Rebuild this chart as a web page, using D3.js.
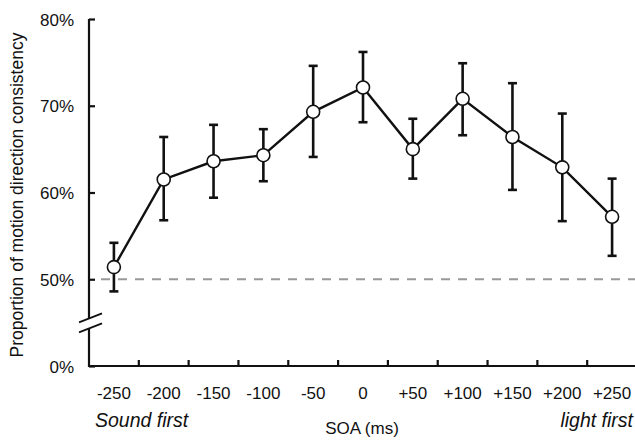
<!DOCTYPE html>
<html>
<head>
<meta charset="utf-8">
<script src="https://cdn.jsdelivr.net/npm/d3@7"></script>
<style>
html,body{margin:0;padding:0;background:#fff;}
svg{display:block;font-family:"Liberation Sans",Arial,Helvetica,sans-serif;}
</style>
</head>
<body>
<svg id="chart" width="635" height="440"></svg>
<script>
// ---- data ----
const categories = ["-250","-200","-150","-100","-50","0","+50","+100","+150","+200","+250"];
const means      = [51.4, 61.5, 63.6, 64.3, 69.3, 72.1, 65.0, 70.8, 66.4, 62.9, 57.2];
const upper      = [54.2, 66.4, 67.8, 67.3, 74.6, 76.2, 68.5, 74.9, 72.6, 69.1, 61.6];
const lower      = [48.6, 56.8, 59.4, 61.3, 64.1, 68.1, 61.6, 66.6, 60.3, 56.7, 52.7];
// axis is broken: bottom "0%" is drawn where 40% would be
const yTickValues = [40, 50, 60, 70, 80];
const yTickLabels = ["0%", "50%", "60%", "70%", "80%"];
const chanceLevel = 50;

const svg = d3.select("#chart");
const pL = 89, pR = 637, pT = 19, pB = 366;

const x = d3.scaleBand().domain(categories).range([pL, pR]).padding(0);
const y = d3.scaleLinear().domain([40, 80]).range([pB, pT]);

const ink = "#111";

// y axis (with break)
const yAxis = d3.axisLeft(y).tickValues(yTickValues)
  .tickFormat((d,i)=>yTickLabels[i]).tickSize(-6).tickPadding(15);
const gy = svg.append("g").attr("transform",`translate(${pL},0)`).call(yAxis);
gy.select(".domain").remove();
gy.selectAll(".tick line").attr("stroke",ink).attr("stroke-width",2.2);
gy.selectAll(".tick text").attr("font-size","17px").attr("fill",ink)
  .attr("font-family","Liberation Sans, Arial, sans-serif").attr("dy","0.36em");
// axis line in two pieces with a gap
svg.append("line").attr("x1",pL).attr("x2",pL).attr("y1",pT).attr("y2",318)
  .attr("stroke",ink).attr("stroke-width",2.2);
svg.append("line").attr("x1",pL).attr("x2",pL).attr("y1",328).attr("y2",pB+1)
  .attr("stroke",ink).attr("stroke-width",2.2);
// break slashes
[[322.3,313.3],[332.3,323.3]].forEach(([ya,yb])=>{
  svg.append("line").attr("x1",79).attr("y1",ya).attr("x2",102).attr("y2",yb)
    .attr("stroke",ink).attr("stroke-width",1.8);
});

// x axis
svg.append("line").attr("x1",pL).attr("x2",pR).attr("y1",pB).attr("y2",pB)
  .attr("stroke",ink).attr("stroke-width",2.2);
const gx = svg.append("g");
gx.selectAll("line.xt").data(categories.slice(0,-1)).join("line")
  .attr("class","xt")
  .attr("x1",d=>x(d)+x.bandwidth()).attr("x2",d=>x(d)+x.bandwidth())
  .attr("y1",pB).attr("y2",pB-6)
  .attr("stroke",ink).attr("stroke-width",2.2);
gx.selectAll("text").data(categories).join("text")
  .attr("x",d=>x(d)+x.bandwidth()/2).attr("y",398.5)
  .attr("text-anchor","middle").attr("font-size","17px").attr("fill",ink)
  .text(d=>d);

// chance line
svg.append("line").attr("x1",101).attr("x2",pR)
  .attr("y1",y(chanceLevel)).attr("y2",y(chanceLevel))
  .attr("stroke","#999").attr("stroke-width",2.2).attr("stroke-dasharray","9,8");

// error bars
const cx = d=>x(d)+x.bandwidth()/2;
const eb = svg.append("g");
categories.forEach((c,i)=>{
  eb.append("line").attr("x1",cx(c)).attr("x2",cx(c)).attr("y1",y(upper[i])).attr("y2",y(lower[i]))
    .attr("stroke",ink).attr("stroke-width",2.6);
  [upper[i],lower[i]].forEach(v=>{
    eb.append("line").attr("x1",cx(c)-4.5).attr("x2",cx(c)+4.5).attr("y1",y(v)).attr("y2",y(v))
      .attr("stroke",ink).attr("stroke-width",2.6);
  });
});

// line
const line = d3.line().x((d,i)=>cx(categories[i])).y(d=>y(d));
svg.append("path").datum(means).attr("d",line).attr("fill","none")
  .attr("stroke",ink).attr("stroke-width",2.4);

// markers
svg.selectAll("circle.pt").data(means).join("circle").attr("class","pt")
  .attr("cx",(d,i)=>cx(categories[i])).attr("cy",d=>y(d)).attr("r",6.5)
  .attr("fill","#fff").attr("stroke",ink).attr("stroke-width",1.6);

// labels
svg.append("text").attr("transform","translate(23,195) rotate(-90)")
  .attr("text-anchor","middle").attr("font-size","17.5px").attr("fill",ink)
  .text("Proportion of motion direction consistency");
svg.append("text").attr("x",362).attr("y",434).attr("text-anchor","middle")
  .attr("font-size","17px").attr("fill",ink).text("SOA (ms)");
svg.append("text").attr("x",95).attr("y",427).attr("font-style","italic")
  .attr("font-size","19.5px").attr("fill",ink).text("Sound first");
svg.append("text").attr("x",633).attr("y",427).attr("text-anchor","end").attr("font-style","italic")
  .attr("font-size","19.5px").attr("fill",ink).text("light first");
</script>
</body>
</html>
